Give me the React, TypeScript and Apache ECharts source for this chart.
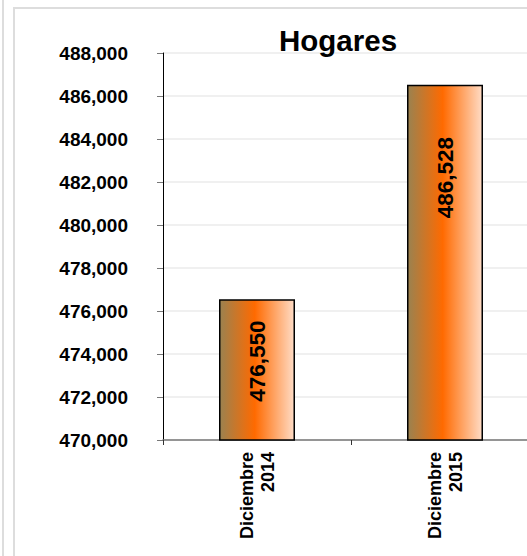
import React, { useEffect, useRef } from "react";
import * as echarts from "echarts";

const categories = ["Diciembre\n2014", "Diciembre\n2015"];
const values = [476550, 486528];
const labelOffsets = [62, 93];
const yMin = 470000;
const yMax = 488000;
const yInterval = 2000;
const title = "Hogares";

export default function App() {
  const ref = useRef<HTMLDivElement>(null);
  useEffect(() => {
    if (!ref.current) return;
    const chart = echarts.init(ref.current, undefined, { renderer: "svg" });
    const font = "Liberation Sans, Arial, sans-serif";
    const fill = new echarts.graphic.LinearGradient(0, 0, 1, 0, [
      { offset: 0, color: "#9a8250" },
      { offset: 0.47, color: "#ff6a00" },
      { offset: 1, color: "#ffdcc6" },
    ]);
    chart.setOption({
      animation: false,
      backgroundColor: "#ffffff",
      textStyle: { fontFamily: font },
      title: {
        text: title,
        left: 274,
        top: 20,
        textStyle: { fontSize: 29.5, fontWeight: "bold", color: "#000", fontFamily: font },
      },
      graphic: [
        { type: "line", shape: { x1: 3, y1: 0, x2: 3, y2: 556 }, style: { stroke: "#dddddd", lineWidth: 2 } },
        { type: "rect", shape: { x: 14, y: 8, width: 700, height: 700 }, style: { fill: "none", stroke: "#dddddd", lineWidth: 2 } },
      ],
      grid: { left: 163, top: 53, width: 376, height: 387, containLabel: false },
      xAxis: {
        type: "category",
        data: categories,
        axisLine: { lineStyle: { color: "#777", width: 1.5 } },
        axisTick: { show: true, length: 5, lineStyle: { color: "#333" } },
        axisLabel: {
          rotate: 90,
          margin: 12,
          fontSize: 18,
          fontWeight: "bold",
          color: "#000",
          lineHeight: 21,
          fontFamily: font,
          align: "right",
        },
      },
      yAxis: {
        type: "value",
        min: yMin,
        max: yMax,
        interval: yInterval,
        axisLine: { show: true, lineStyle: { color: "#000", width: 1 } },
        axisTick: { show: true, length: 6, lineStyle: { color: "#777" } },
        splitLine: { lineStyle: { color: "#ebebeb", width: 1.5 } },
        axisLabel: {
          margin: 35,
          fontSize: 19,
          fontWeight: "bold",
          color: "#000",
          fontFamily: font,
          formatter: (v: number) => v.toLocaleString("en-US"),
        },
      },
      series: [
        {
          type: "bar",
          barWidth: 76,
          data: values.map((v, i) => ({
            value: v,
            label: { position: ["50%", labelOffsets[i]] },
          })),
          itemStyle: { color: fill, borderColor: "#000", borderWidth: 1.5 },
          label: {
            show: true,
            rotate: 90,
            align: "center",
            verticalAlign: "middle",
            fontSize: 22.5,
            fontWeight: "bold",
            color: "#000",
            fontFamily: font,
            formatter: (p: any) => Number(p.value).toLocaleString("en-US"),
          },
        },
      ],
    });
    return () => chart.dispose();
  }, []);
  return (
    <div style={{ position: "absolute", left: 0, top: 0, width: 527, height: 556, overflow: "hidden", background: "#fff" }}>
      <div ref={ref} style={{ width: 620, height: 556 }} />
    </div>
  );
}
